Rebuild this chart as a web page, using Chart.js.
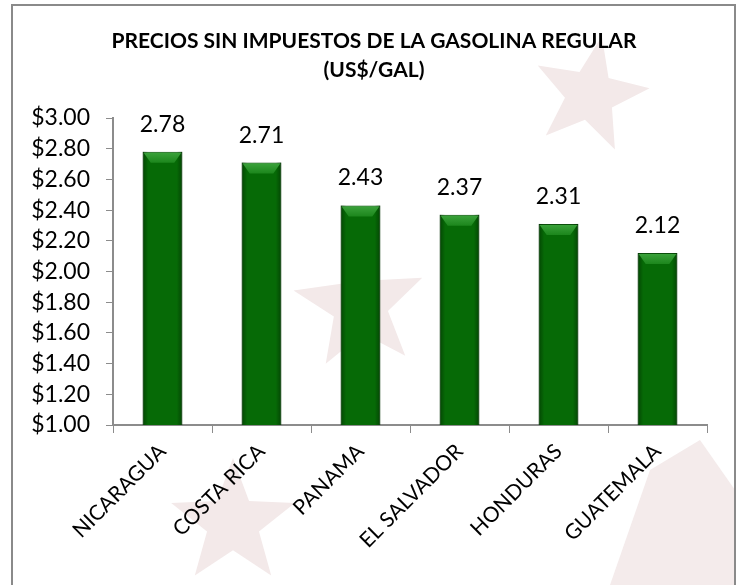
<!DOCTYPE html>
<html>
<head>
<meta charset="utf-8">
<script src="https://cdn.jsdelivr.net/npm/chart.js@4.4.1/dist/chart.umd.min.js"></script>
<style>
  html, body { margin: 0; padding: 0; background: #fff; overflow: hidden; }
  #wrap { position: absolute; left: 0; top: 0; width: 738px; height: 585px; }
</style>
</head>
<body>
<div id="wrap"><canvas id="chart" width="738" height="585"></canvas></div>
<script>
const paises = ["NICARAGUA", "COSTA RICA", "PANAMA", "EL SALVADOR", "HONDURAS", "GUATEMALA"];
const precios = [2.78, 2.71, 2.43, 2.37, 2.31, 2.12];
const titulo = ["PRECIOS SIN IMPUESTOS DE LA GASOLINA REGULAR", "(US$/GAL)"];
const yMin = 1.0;
const yMax = 3.0;
const yPaso = 0.2;

const FONT = "Lato, 'Open Sans', sans-serif";

// estrellas del fondo (marca de agua) y marco
function estrella(ctx, cx, cy, r, rot) {
  ctx.beginPath();
  for (let i = 0; i < 10; i++) {
    const rad = i % 2 === 0 ? r : r * 0.42;
    const a = -Math.PI / 2 + rot + (i * Math.PI) / 5;
    const px = cx + rad * Math.cos(a);
    const py = cy + rad * Math.sin(a);
    if (i === 0) ctx.moveTo(px, py);
    else ctx.lineTo(px, py);
  }
  ctx.closePath();
  ctx.fill();
}

const fondo = {
  id: "fondo",
  beforeDraw(chart) {
    const ctx = chart.ctx;
    ctx.save();
    ctx.fillStyle = "#fff";
    ctx.fillRect(0, 0, chart.width, chart.height);
    ctx.fillStyle = "#f3e9e9";
    estrella(ctx, 590, 95, 60, 0.2);
    estrella(ctx, 360, 305, 68, -0.1);
    estrella(ctx, 233, 523, 65, 0.0);
    ctx.fillStyle = "#f4ebeb";
    ctx.beginPath();
    ctx.moveTo(610, 585);
    ctx.lineTo(650, 470);
    ctx.lineTo(700, 440);
    ctx.lineTo(735, 490);
    ctx.lineTo(735, 585);
    ctx.closePath();
    ctx.fill();
    ctx.strokeStyle = "#8a8a8a";
    ctx.lineWidth = 2;
    ctx.strokeRect(12, 5, 723, 600);
    ctx.restore();
  },
  // título centrado sobre el marco completo
  afterDraw(chart) {
    const ctx = chart.ctx;
    ctx.save();
    ctx.fillStyle = "#000";
    ctx.font = "bold 21px " + FONT;
    ctx.textAlign = "center";
    ctx.textBaseline = "middle";
    ctx.fillText(titulo[0], 374, 41);
    ctx.fillText(titulo[1], 374, 70);
    ctx.restore();
  },
};

// relieve de las barras y etiquetas de valor
const relieve = {
  id: "relieve",
  afterDatasetsDraw(chart) {
    const ctx = chart.ctx;
    const meta = chart.getDatasetMeta(0);
    const fondoY = chart.scales.y.getPixelForValue(yMin);
    ctx.save();
    meta.data.forEach((bar, i) => {
      const p = bar.getProps(["x", "y", "width"], true);
      const x0 = p.x - p.width / 2;
      const x1 = p.x + p.width / 2;
      const top = p.y;
      const g = ctx.createLinearGradient(x0, 0, x1, 0);
      g.addColorStop(0, "rgba(0,35,0,0.5)");
      g.addColorStop(0.14, "rgba(0,35,0,0.0)");
      g.addColorStop(0.86, "rgba(0,35,0,0.0)");
      g.addColorStop(1, "rgba(0,35,0,0.5)");
      ctx.fillStyle = g;
      ctx.fillRect(x0, top, x1 - x0, fondoY - top);
      const b = 11;
      const vg = ctx.createLinearGradient(0, top, 0, top + b);
      vg.addColorStop(0, "#3da43d");
      vg.addColorStop(1, "#1c861c");
      ctx.fillStyle = vg;
      ctx.beginPath();
      ctx.moveTo(x0 + 1, top + 1);
      ctx.lineTo(x1 - 1, top + 1);
      ctx.lineTo(x1 - 8, top + b);
      ctx.lineTo(x0 + 8, top + b);
      ctx.closePath();
      ctx.fill();

      ctx.fillStyle = "#000";
      ctx.font = "23px " + FONT;
      ctx.textAlign = "center";
      ctx.textBaseline = "alphabetic";
      ctx.fillText(precios[i].toFixed(2), p.x, top - 20);
    });
    ctx.restore();
  },
};

new Chart(document.getElementById("chart"), {
  type: "bar",
  data: {
    labels: paises,
    datasets: [
      {
        data: precios,
        backgroundColor: "#066a06",
        borderColor: "#0b4f0b",
        borderWidth: 1,
        borderSkipped: "bottom",
        barPercentage: 0.4,
        categoryPercentage: 1,
      },
    ],
  },
  options: {
    responsive: false,
    animation: false,
    layout: { padding: { left: 0, right: 31, top: 118, bottom: 0 } },
    plugins: {
      legend: { display: false },
      tooltip: { enabled: false },
      title: { display: false },
    },
    scales: {
      x: {
        grid: { display: true, drawOnChartArea: false, color: "#8c8c8c", tickLength: 8 },
        border: { color: "#8c8c8c", width: 2 },
        ticks: {
          color: "#000",
          font: { family: FONT, size: 21 },
          maxRotation: 45,
          minRotation: 45,
          padding: 6,
        },
        afterFit(scale) {
          scale.height = 160;
        },
      },
      y: {
        min: yMin,
        max: yMax,
        grid: { display: true, drawOnChartArea: false, color: "#8c8c8c", tickLength: 7 },
        border: { color: "#8c8c8c", width: 2 },
        ticks: {
          stepSize: yPaso,
          color: "#000",
          font: { family: FONT, size: 23 },
          padding: 16,
          callback: (v) => "$" + Number(v).toFixed(2),
        },
        afterFit(scale) {
          scale.width = 113;
        },
      },
    },
  },
  plugins: [fondo, relieve],
});
</script>
</body>
</html>
